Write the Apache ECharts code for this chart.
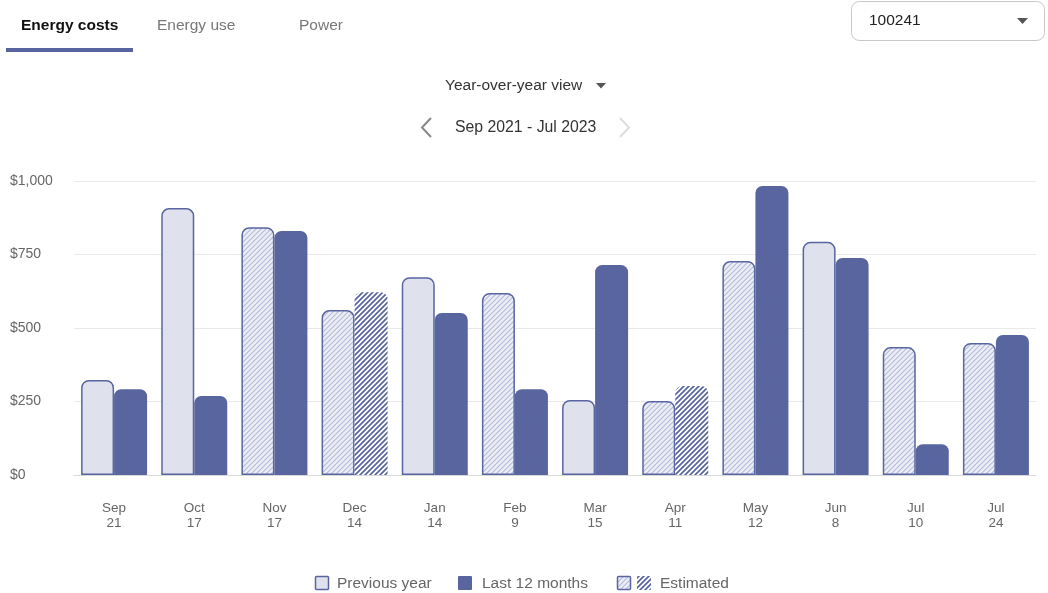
<!DOCTYPE html>
<html>
<head>
<meta charset="utf-8">
<script src="https://cdn.jsdelivr.net/npm/echarts@6/dist/echarts.min.js"></script>
<style>
html,body{margin:0;padding:0;background:#fff;}
#chart{width:1048px;height:593px;}
</style>
</head>
<body>
<div id="chart"></div>
<script>
var months = ['Sep','Oct','Nov','Dec','Jan','Feb','Mar','Apr','May','Jun','Jul','Jul'];
var days = ['21','17','17','14','14','9','15','11','12','8','10','24'];
var previousYear = [323, 908, 843, 561, 673, 619, 255, 252, 728, 793, 435, 449];
var last12Months = [292, 269, 830, 622, 551, 292, 714, 303, 983, 738, 105, 476];
var previousEstimated = [false, false, true, true, false, true, false, true, true, false, true, true];
var lastEstimated = [false, false, false, true, false, false, false, true, false, false, false, false];
var yTicks = [0, 250, 500, 750, 1000];
var tabs = ['Energy costs', 'Energy use', 'Power'];
var legendNames = ['Previous year', 'Last 12 months', 'Estimated'];

var DARK = '#58659f';
var BORDER = '#5865a2';
var LIGHT = '#dfe1ec';

function hatch(bg, line, w) {
  var c = document.createElement('canvas');
  c.width = 5; c.height = 5;
  var g = c.getContext('2d');
  g.fillStyle = bg; g.fillRect(0, 0, 5, 5);
  g.strokeStyle = line; g.lineWidth = w;
  g.beginPath();
  g.moveTo(-1, 6); g.lineTo(6, -1);
  g.moveTo(-4, 4); g.lineTo(4, -4);
  g.moveTo(1, 9); g.lineTo(9, 1);
  g.stroke();
  return c;
}
var lightHatch = hatch('#eceef5', '#b3b9d6', 1.1);
var darkHatch = hatch('#ffffff', DARK, 1.7);

var categories = months.map(function (m, i) { return m + '\n' + days[i]; });

var prevData = previousYear.map(function (v, i) {
  return {
    value: v,
    itemStyle: {
      color: previousEstimated[i] ? { image: lightHatch, repeat: 'repeat' } : LIGHT,
      borderColor: BORDER, borderWidth: 1.5, borderRadius: [7, 7, 0, 0]
    }
  };
});
var lastData = last12Months.map(function (v, i) {
  return {
    value: v,
    itemStyle: {
      color: lastEstimated[i] ? { image: darkHatch, repeat: 'repeat' } : DARK,
      borderWidth: 0, borderRadius: [7, 7, 0, 0]
    }
  };
});

var FONT = 'Liberation Sans, Arial, sans-serif';
var graphics = [
  { type: 'text', left: 21, top: 18, style: { text: tabs[0], font: 'bold 15.5px ' + FONT, fill: '#111' } },
  { type: 'text', left: 157, top: 18, style: { text: tabs[1], font: '15.5px ' + FONT, fill: '#777' } },
  { type: 'text', left: 299, top: 18, style: { text: tabs[2], font: '15.5px ' + FONT, fill: '#777' } },
  { type: 'rect', shape: { x: 6, y: 48, width: 127, height: 4 }, style: { fill: '#5764a0' } },
  { type: 'rect', shape: { x: 851.5, y: 1.5, width: 193, height: 39, r: 8 }, style: { fill: '#fff', stroke: '#c8c8c8', lineWidth: 1 } },
  { type: 'text', left: 869, top: 13, style: { text: '100241', font: '15.5px ' + FONT, fill: '#222' } },
  { type: 'polygon', shape: { points: [[1017, 18], [1028, 18], [1022.5, 24]] }, style: { fill: '#555' } },
  { type: 'text', left: 445, top: 78, style: { text: 'Year-over-year view', font: '15.5px ' + FONT, fill: '#333' } },
  { type: 'polygon', shape: { points: [[596, 83], [606, 83], [601, 88.5]] }, style: { fill: '#555' } },
  { type: 'text', left: 455, top: 120, style: { text: 'Sep 2021 - Jul 2023', font: '15.8px ' + FONT, fill: '#333' } },
  { type: 'polyline', shape: { points: [[431, 118], [422, 127.5], [431, 137]] }, style: { stroke: '#888', lineWidth: 2, fill: null } },
  { type: 'polyline', shape: { points: [[620, 118], [629, 127.5], [620, 137]] }, style: { stroke: '#ddd', lineWidth: 2, fill: null } },
  // legend
  { type: 'rect', shape: { x: 315.5, y: 576.5, width: 13, height: 13, r: 1 }, style: { fill: LIGHT, stroke: BORDER, lineWidth: 1.5 } },
  { type: 'text', left: 337, top: 576, style: { text: legendNames[0], font: '15.5px ' + FONT, fill: '#666' } },
  { type: 'rect', shape: { x: 458, y: 576, width: 14, height: 14, r: 1 }, style: { fill: DARK } },
  { type: 'text', left: 482, top: 576, style: { text: legendNames[1], font: '15.5px ' + FONT, fill: '#666' } },
  { type: 'rect', shape: { x: 617.5, y: 576.5, width: 13, height: 13, r: 1 }, style: { fill: { image: lightHatch, repeat: 'repeat' }, stroke: BORDER, lineWidth: 1.5 } },
  { type: 'rect', shape: { x: 637, y: 576, width: 14, height: 14, r: 1 }, style: { fill: { image: darkHatch, repeat: 'repeat' } } },
  { type: 'text', left: 660, top: 576, style: { text: legendNames[2], font: '15.5px ' + FONT, fill: '#666' } }
];

var chart = echarts.init(document.getElementById('chart'), null, { renderer: 'canvas' });
chart.setOption({
  animation: false,
  backgroundColor: '#fff',
  textStyle: { fontFamily: FONT },
  grid: { left: 74, right: 12, top: 181, bottom: 118 },
  xAxis: {
    type: 'category',
    data: categories,
    axisTick: { show: false },
    axisLine: { lineStyle: { color: '#d9d9d9', width: 1 } },
    axisLabel: { color: '#666', fontSize: 13.5, lineHeight: 15, margin: 26 }
  },
  yAxis: {
    type: 'value',
    min: yTicks[0], max: yTicks[yTicks.length - 1], interval: 250,
    axisLine: { show: false },
    axisTick: { show: false },
    splitLine: { lineStyle: { color: '#e9e9ec', width: 1 } },
    axisLabel: {
      color: '#666', fontSize: 14, align: 'left', margin: 64,
      formatter: function (v) { return '$' + v.toLocaleString('en-US'); }
    }
  },
  series: [
    { name: legendNames[0], type: 'bar', barWidth: 33, barGap: '0%', data: prevData },
    { name: legendNames[1], type: 'bar', barWidth: 33, barGap: '0%', data: lastData }
  ],
  graphic: graphics
});
</script>
</body>
</html>
